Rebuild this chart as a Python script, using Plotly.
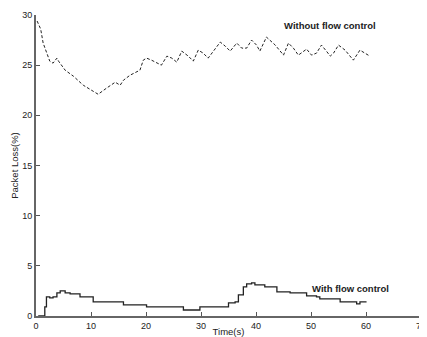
import plotly.graph_objects as go

# Without flow control
t_without = [0.2, 0.85, 1.3, 1.9, 2.5, 3.1, 3.8, 4.1, 5.3, 6.8, 8.6, 10.4, 11.3, 12.8, 14.4, 15.3, 15.9,
             17.1, 18.9, 19.5, 20.1, 21.0, 22.2, 22.8, 23.8, 24.7, 25.6, 26.5, 27.7, 28.6, 29.5,
             30.4, 31.3, 32.2, 33.5, 34.4, 35.3, 36.5, 37.4, 38.3, 39.2, 40.1, 40.7, 41.9, 43.5,
             45.0, 45.9, 46.8, 47.7, 49.2, 50.1, 51.0, 51.9, 52.8, 53.5, 54.1, 55.0, 56.2, 57.7,
             58.9, 60.7]
loss_without = [29.4, 28.6, 27.2, 26.2, 25.4, 25.2, 25.7, 25.4, 24.5, 23.9, 23.0, 22.4, 22.1, 22.7, 23.3,
                23.0, 23.5, 24.0, 24.5, 25.5, 25.7, 25.5, 25.2, 25.0, 25.9, 25.7, 25.3, 26.4, 25.9,
                25.4, 26.5, 26.2, 25.7, 26.4, 27.3, 26.9, 26.4, 27.2, 26.7, 26.7, 27.5, 27.0, 26.4,
                27.8, 27.0, 26.0, 27.2, 26.7, 26.0, 26.6, 26.0, 26.2, 27.0, 26.4, 25.9, 26.2, 27.0,
                26.5, 25.5, 26.5, 25.9]

# With flow control
t_with = [0.4, 1.2, 1.6, 1.9, 2.5, 3.1, 3.8, 4.4, 5.3, 6.2, 8.0, 10.4, 15.3, 15.9, 18.9, 20.1, 26.2,
          26.8, 29.2, 29.8, 34.4, 35.0, 36.2, 36.8, 37.7, 38.3, 39.2, 39.8, 41.6, 43.8, 45.6, 46.2,
          48.6, 49.2, 51.0, 51.6, 54.7, 55.3, 57.1, 58.3, 58.9, 60.1]
loss_with = [0.0, 0.0, 0.9, 1.9, 1.8, 1.9, 2.3, 2.5, 2.3, 2.2, 1.9, 1.4, 1.4, 1.1, 1.1, 0.9, 0.9,
             0.6, 0.6, 0.9, 0.9, 1.3, 1.4, 2.1, 2.9, 3.2, 3.3, 3.1, 2.9, 2.4, 2.4, 2.3,
             2.3, 2.0, 1.9, 1.7, 1.7, 1.4, 1.4, 1.2, 1.4, 1.4]

x_ticks = [0, 10, 20, 30, 40, 50, 60, 70]
y_ticks = [0, 5, 10, 15, 20, 25, 30]

FONT = "Liberation Sans"

fig = go.Figure()
fig.add_trace(go.Scatter(x=t_without, y=loss_without, mode="lines",
                         line=dict(color="#222", width=1, dash="3px,2px"), showlegend=False))
fig.add_trace(go.Scatter(x=t_with, y=loss_with, mode="lines",
                         line=dict(color="#222", width=1.3, shape="hv"), showlegend=False))

fig.add_annotation(x=53.5, y=29.0, text="<b>Without flow control</b>", showarrow=False,
                   font=dict(size=9.5, color="#222", family=FONT))
fig.add_annotation(x=57.1, y=2.7, text="<b>With flow control</b>", showarrow=False,
                   font=dict(size=9.5, color="#222", family=FONT))

# page body has an 8px margin, so the figure starts at (8, 8) in the window
fig.update_layout(
    width=419, height=329,
    margin=dict(l=28, r=6, t=7, b=21),
    paper_bgcolor="white", plot_bgcolor="white",
    font=dict(family=FONT, size=9, color="#222"),
)
fig.update_xaxes(range=[0, 70], tickvals=x_ticks, ticks="inside", ticklen=4, tickcolor="#555",
                 showline=True, linecolor="#666", linewidth=2, showgrid=False, zeroline=False,
                 automargin=False, tickfont=dict(size=9),
                 title=dict(text="Time(s)", standoff=1, font=dict(size=9.5)))
fig.update_yaxes(range=[0, 30], tickvals=y_ticks, ticks="inside", ticklen=4, tickcolor="#555",
                 showline=True, linecolor="#666", linewidth=2, showgrid=False, zeroline=False,
                 automargin=False, tickfont=dict(size=9),
                 title=dict(text="Packet Loss(%)", standoff=2, font=dict(size=9.5)))

fig.write_html("out.html")
